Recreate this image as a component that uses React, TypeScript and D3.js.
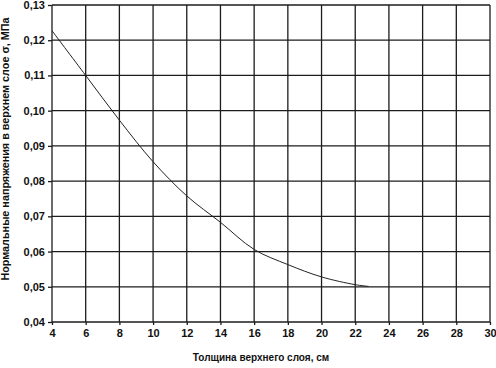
import { useEffect, useRef } from 'react';
import * as d3 from 'd3';

// thickness of the top layer, cm
const thickness = [4, 6, 8, 10, 12, 14, 16, 18, 20, 22, 22.8];
// normal stress in the top layer, MPa
const stress = [0.1227, 0.11, 0.0973, 0.0855, 0.0758, 0.0683, 0.0606, 0.0563, 0.0528, 0.0506, 0.0501];

const xTicks = [4, 6, 8, 10, 12, 14, 16, 18, 20, 22, 24, 26, 28, 30];
const yTicks = [0.04, 0.05, 0.06, 0.07, 0.08, 0.09, 0.1, 0.11, 0.12, 0.13];

const xTitle = 'Толщина верхнего слоя, см';
const yTitle = 'Нормальные напряжения в верхнем слое σ, МПа';

const W = 496;
const H = 368;
const M = { top: 5, right: 6, bottom: 46, left: 52 };
const FONT = '"Liberation Sans", Arial, sans-serif';

export default function App() {
  const svgRef = useRef<SVGSVGElement>(null);

  useEffect(() => {
    if (!svgRef.current) return;
    const svg = d3.select(svgRef.current);
    svg.selectAll('*').remove();

    const iW = W - M.left - M.right;
    const iH = H - M.top - M.bottom;

    const x = d3.scaleLinear([4, 30], [0, iW]);
    const y = d3.scaleLinear([0.04, 0.13], [iH, 0]);

    svg.append('rect').attr('width', W).attr('height', H).attr('fill', '#fff');

    const g = svg.append('g').attr('transform', `translate(${M.left},${M.top})`);

    // grid
    g.append('g')
      .selectAll('line')
      .data(xTicks)
      .join('line')
      .attr('x1', d => x(d)).attr('x2', d => x(d))
      .attr('y1', 0).attr('y2', iH)
      .attr('stroke', '#1c1c1c').attr('stroke-width', 1.3);

    g.append('g')
      .selectAll('line')
      .data(yTicks)
      .join('line')
      .attr('x1', 0).attr('x2', iW)
      .attr('y1', d => y(d)).attr('y2', d => y(d))
      .attr('stroke', '#1c1c1c').attr('stroke-width', 1.3);

    // axes
    g.append('g')
      .attr('transform', `translate(0,${iH})`)
      .call(d3.axisBottom(x).tickValues(xTicks).tickSize(3).tickPadding(4).tickFormat(d => String(d)))
      .call(a => {
        a.select('.domain').remove();
        a.selectAll('.tick line').attr('stroke', '#1c1c1c').attr('stroke-width', 1.3);
        a.selectAll('text')
          .attr('fill', '#111')
          .attr('font-size', 11)
          .attr('font-weight', 'bold')
          .attr('font-family', FONT);
      });

    g.append('g')
      .call(
        d3.axisLeft(y)
          .tickValues(yTicks)
          .tickSize(4)
          .tickPadding(3)
          .tickFormat(d => (d as number).toFixed(2).replace('.', ',')),
      )
      .call(a => {
        a.select('.domain').remove();
        a.selectAll('.tick line').attr('stroke', '#1c1c1c').attr('stroke-width', 1.3);
        a.selectAll('text')
          .attr('fill', '#111')
          .attr('font-size', 11)
          .attr('font-weight', 'bold')
          .attr('font-family', FONT);
      });

    // curve
    const pts = thickness.map((t, i) => [t, stress[i]] as [number, number]);
    g.append('path')
      .attr('fill', 'none')
      .attr('stroke', '#222')
      .attr('stroke-width', 1)
      .attr(
        'd',
        d3.line<[number, number]>()
          .x(p => x(p[0]))
          .y(p => y(p[1]))
          .curve(d3.curveCatmullRom.alpha(0.5))(pts) ?? '',
      );

    // titles
    svg.append('text')
      .attr('x', 261)
      .attr('y', 361)
      .attr('text-anchor', 'middle')
      .attr('font-size', 10)
      .attr('font-weight', 'bold')
      .attr('font-family', FONT)
      .attr('fill', '#111')
      .text(xTitle);

    svg.append('text')
      .attr('transform', `translate(9,149) rotate(-90)`)
      .attr('text-anchor', 'middle')
      .attr('font-size', 10.8)
      .attr('font-weight', 'bold')
      .attr('font-family', FONT)
      .attr('fill', '#111')
      .text(yTitle);
  }, []);

  return (
    <svg
      ref={svgRef}
      width={W}
      height={H}
      style={{ position: 'absolute', left: 0, top: 0, display: 'block' }}
    />
  );
}
